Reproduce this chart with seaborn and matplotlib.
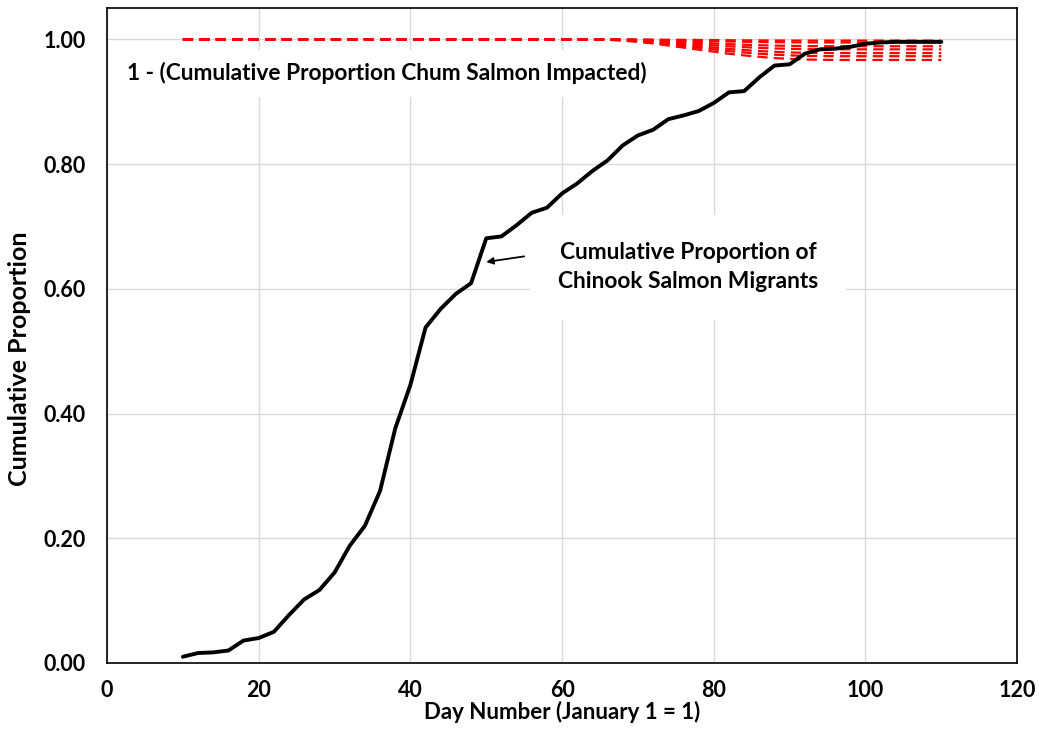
import matplotlib
matplotlib.use("Agg")
import matplotlib.pyplot as plt
import seaborn as sns
import pandas as pd

# ---- data ----
days = [10, 12, 14, 16, 18, 20, 22, 24, 26, 28, 30, 32, 34, 36, 38, 40, 42, 44, 46, 48,
        50, 52, 54, 56, 58, 60, 62, 64, 66, 68, 70, 72, 74, 76, 78, 80, 82, 84, 86, 88,
        90, 92, 94, 96, 98, 100, 102, 104, 106, 108, 110]
chinook = [0.010, 0.016, 0.017, 0.020, 0.036, 0.040, 0.050, 0.077, 0.102, 0.117, 0.145,
           0.188, 0.220, 0.276, 0.376, 0.446, 0.538, 0.568, 0.592, 0.609, 0.681, 0.684,
           0.702, 0.722, 0.730, 0.753, 0.769, 0.789, 0.806, 0.830, 0.846, 0.855, 0.872,
           0.878, 0.885, 0.898, 0.915, 0.917, 0.939, 0.958, 0.960, 0.977, 0.984, 0.985,
           0.988, 0.993, 0.995, 0.996, 0.996, 0.996, 0.996]

chum_days = [10, 64, 66, 68, 70, 72, 74, 76, 78, 80, 82, 84, 86, 88, 90, 92, 94,
             96, 98, 100, 102, 104, 106, 108, 110]
chum_a = [1.0, 1.0, 1.0, 0.9999, 0.9998, 0.9996, 0.9994, 0.9992, 0.999, 0.9988, 0.9986, 0.9984,
          0.9983, 0.9982, 0.9981, 0.998, 0.998, 0.998, 0.998, 0.998, 0.998, 0.998, 0.998, 0.998, 0.998]
chum_b = [1.0, 1.0, 0.9999, 0.9997, 0.9994, 0.999, 0.9985, 0.998, 0.9975, 0.997, 0.9965, 0.9961,
          0.9958, 0.9955, 0.9953, 0.9951, 0.995, 0.995, 0.995, 0.995, 0.995, 0.995, 0.995, 0.995, 0.995]
chum_c = [1.0, 1.0, 0.9998, 0.9993, 0.9987, 0.9978, 0.9967, 0.9956, 0.9945, 0.9934, 0.9923, 0.9914,
          0.9907, 0.99, 0.9896, 0.9892, 0.9891, 0.989, 0.989, 0.989, 0.989, 0.989, 0.989, 0.989, 0.989]
chum_d = [1.0, 1.0, 0.9997, 0.999, 0.9981, 0.9968, 0.9952, 0.9936, 0.992, 0.9904, 0.9888, 0.9875,
          0.9864, 0.9854, 0.9848, 0.9843, 0.9842, 0.984, 0.984, 0.984, 0.984, 0.984, 0.984, 0.984, 0.984]
chum_e = [1.0, 1.0, 0.9996, 0.9987, 0.9974, 0.9956, 0.9934, 0.9912, 0.989, 0.9868, 0.9846, 0.9828,
          0.9813, 0.98, 0.9791, 0.9784, 0.9782, 0.978, 0.978, 0.978, 0.978, 0.978, 0.978, 0.978, 0.978]
chum_f = [1.0, 1.0, 0.9995, 0.9984, 0.9968, 0.9946, 0.9919, 0.9892, 0.9865, 0.9838, 0.9811, 0.9789,
          0.977, 0.9754, 0.9744, 0.9735, 0.9733, 0.973, 0.973, 0.973, 0.973, 0.973, 0.973, 0.973, 0.973]
chum_g = [1.0, 1.0, 0.9993, 0.998, 0.996, 0.9934, 0.9901, 0.9868, 0.9835, 0.9802, 0.9769, 0.9743,
          0.972, 0.97, 0.9687, 0.9677, 0.9673, 0.967, 0.967, 0.967, 0.967, 0.967, 0.967, 0.967, 0.967]
chum_series = [chum_a, chum_b, chum_c, chum_d, chum_e, chum_f, chum_g]

x_ticks = [0, 20, 40, 60, 80, 100, 120]
y_ticks = [0.0, 0.2, 0.4, 0.6, 0.8, 1.0]
x_label = "Day Number (January 1 = 1)"
y_label = "Cumulative Proportion"
chum_text = "1 - (Cumulative Proportion Chum Salmon Impacted)"
chinook_text = "Cumulative Proportion of\nChinook Salmon Migrants"

# ---- plotting ----
sns.set_theme(style="whitegrid")
plt.rcParams["font.family"] = ["Lato", "DejaVu Sans"]
plt.rcParams["font.weight"] = "bold"

fig = plt.figure(figsize=(10.39, 7.30), dpi=100)
ax = fig.add_axes([0.103, 0.0918, 0.876, 0.897])

for s in chum_series:
    df = pd.DataFrame({"day": chum_days, "val": s})
    sns.lineplot(data=df, x="day", y="val", ax=ax, color="#ff0000", linewidth=1.6,
                 linestyle=(0, (4.6, 2.8)), zorder=3)

dfc = pd.DataFrame({"day": days, "val": chinook})
sns.lineplot(data=dfc, x="day", y="val", ax=ax, color="black", linewidth=2.8, zorder=4)

ax.set_xlim(0, 120)
ax.set_ylim(0, 1.05)
ax.set_xticks(x_ticks)
ax.set_yticks(y_ticks)
ax.set_xticklabels([str(t) for t in x_ticks])
ax.set_yticklabels([f"{t:.2f}" for t in y_ticks])

ax.grid(True, color="#d9d9d9", linewidth=1.0)
for sp in ax.spines.values():
    sp.set_color("black")
    sp.set_linewidth(1.2)
    sp.set_visible(True)

ax.tick_params(axis="both", direction="out", length=5.5, width=1.2, color="black",
               labelsize=15.5, labelcolor="black")
ax.tick_params(axis="x", pad=7)
ax.tick_params(axis="y", pad=10)
for lbl in ax.get_xticklabels() + ax.get_yticklabels():
    lbl.set_fontweight("bold")

ax.set_xlabel(x_label, fontsize=16, fontweight="bold", color="black", labelpad=0)
ax.set_ylabel(y_label, fontsize=18, fontweight="bold", color="black")
ax.yaxis.set_label_coords(-0.083, 0.464)

ax.text(2.6, 0.9455, chum_text, fontsize=16.4, fontweight="bold", color="black",
        ha="left", va="center", zorder=2,
        bbox=dict(facecolor="white", edgecolor="none", pad=9))
ax.text(76.6, 0.6346, chinook_text, fontsize=16.4, fontweight="bold", color="black",
        ha="center", va="center", linespacing=1.45, zorder=2,
        bbox=dict(facecolor="white", edgecolor="none", pad=20))
ax.annotate("", xy=(50.0, 0.643), xytext=(55.0, 0.652),
            arrowprops=dict(arrowstyle="-|>", color="black", lw=1.3,
                            mutation_scale=10, shrinkA=0, shrinkB=0), zorder=6)

fig.savefig("out.png", dpi=100, facecolor="white")
